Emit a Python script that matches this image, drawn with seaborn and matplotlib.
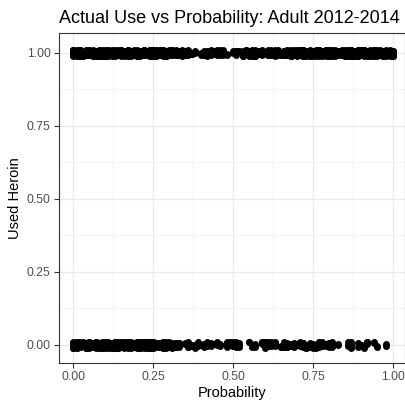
import numpy as np
import pandas as pd
import seaborn as sns
import matplotlib.pyplot as plt

title = "Actual Use vs Probability: Adult 2012-2014"
x_label = "Probability"
y_label = "Used Heroin"
tick_values = [0.0, 0.25, 0.5, 0.75, 1.0]
tick_labels = ["0.00", "0.25", "0.50", "0.75", "1.00"]
minor_values = [0.125, 0.375, 0.625, 0.875]

# probability bins and number of cases per bin
prob_bins = [
    0.00, 0.01, 0.02, 0.03, 0.04, 0.05, 0.06, 0.07, 0.08, 0.09,
    0.10, 0.11, 0.12, 0.13, 0.14, 0.15, 0.16, 0.17, 0.18, 0.19,
    0.20, 0.21, 0.22, 0.23, 0.24, 0.25, 0.26, 0.27, 0.28, 0.29,
    0.30, 0.31, 0.32, 0.33, 0.34, 0.35, 0.36, 0.37, 0.38, 0.39,
    0.40, 0.41, 0.42, 0.43, 0.44, 0.45, 0.46, 0.47, 0.48, 0.49,
    0.50, 0.51, 0.52, 0.53, 0.54, 0.55, 0.56, 0.57, 0.58, 0.59,
    0.60, 0.61, 0.62, 0.63, 0.64, 0.65, 0.66, 0.67, 0.68, 0.69,
    0.70, 0.71, 0.72, 0.73, 0.74, 0.75, 0.76, 0.77, 0.78, 0.79,
    0.80, 0.81, 0.82, 0.83, 0.84, 0.85, 0.86, 0.87, 0.88, 0.89,
    0.90, 0.91, 0.92, 0.93, 0.94, 0.95, 0.96, 0.97, 0.98, 0.99,
    1.00,
]

# Used Heroin = 1
used_counts = [
    11, 11, 11, 11, 11, 11, 11, 11, 11, 11,
    11, 11, 11, 11, 11, 11, 11, 11, 11, 11,
    11, 11, 11, 11, 11, 11, 11, 11, 11, 11,
    11, 11, 11, 11, 11, 9, 4, 5, 3, 0,
    2, 4, 5, 4, 6, 4, 6, 5, 2, 0,
    2, 3, 2, 5, 6, 6, 5, 6, 5, 4,
    0, 5, 6, 5, 4, 1, 10, 11, 11, 11,
    11, 11, 11, 11, 11, 11, 11, 11, 11, 11,
    11, 11, 11, 11, 11, 11, 11, 11, 11, 11,
    11, 11, 11, 11, 11, 11, 11, 11, 11, 11,
    6,
]

# Used Heroin = 0
not_used_counts = [
    12, 12, 12, 12, 12, 12, 12, 12, 12, 12,
    12, 12, 12, 12, 12, 12, 12, 12, 12, 12,
    12, 12, 12, 11, 11, 11, 10, 9, 7, 6,
    6, 5, 6, 4, 0, 2, 4, 3, 4, 3,
    0, 4, 3, 3, 0, 4, 3, 0, 4, 3,
    3, 3, 4, 0, 0, 2, 3, 3, 0, 3,
    4, 3, 4, 3, 0, 4, 4, 4, 3, 4,
    4, 3, 4, 4, 3, 3, 3, 3, 4, 3,
    4, 3, 0, 2, 0, 0, 3, 3, 0, 2,
    3, 3, 3, 0, 2, 2, 0, 0, 2, 0,
    0,
]

df = pd.DataFrame({
    "Probability": np.concatenate([np.repeat(prob_bins, not_used_counts),
                                   np.repeat(prob_bins, used_counts)]),
    "Used": np.concatenate([np.zeros(sum(not_used_counts)),
                            np.ones(sum(used_counts))]),
})

sns.set_theme(style="white")
plt.rcParams["font.family"] = ["Liberation Sans", "DejaVu Sans"]

fig = plt.figure(figsize=(4.06, 4.04), dpi=100)
ax = fig.add_axes([59 / 406, 41 / 404, 346.5 / 406, 330 / 404])

np.random.seed(7)
sns.stripplot(data=df, x="Probability", y="Used", orient="h",
              native_scale=True, jitter=0.011, color="black", size=5,
              linewidth=0, ax=ax, zorder=3)

ax.set_xlim(-0.045, 1.04)
ax.set_ylim(-0.062, 1.068)
ax.set_xticks(tick_values, tick_labels)
ax.set_yticks(tick_values, tick_labels)
ax.set_xticks(minor_values, minor=True)
ax.set_yticks(minor_values, minor=True)
ax.grid(which="major", color="#EBEBEB", linewidth=1.0)
ax.grid(which="minor", color="#F3F3F3", linewidth=0.6)
ax.set_axisbelow(True)
ax.tick_params(which="major", length=3.5, width=0.8, color="#333333",
               labelcolor="#4D4D4D", labelsize=8.7, pad=2.5,
               bottom=True, left=True)
ax.tick_params(which="minor", length=0)
for s in ax.spines.values():
    s.set_visible(True)
    s.set_color("#333333")
    s.set_linewidth(0.8)

ax.set_xlabel(x_label, fontsize=10.5, color="black", labelpad=2)
ax.set_ylabel(y_label, fontsize=10.5, color="black", labelpad=3)
ax.set_title(title, loc="left", fontsize=13, color="black", pad=7)

fig.savefig("out.png", dpi=100)
